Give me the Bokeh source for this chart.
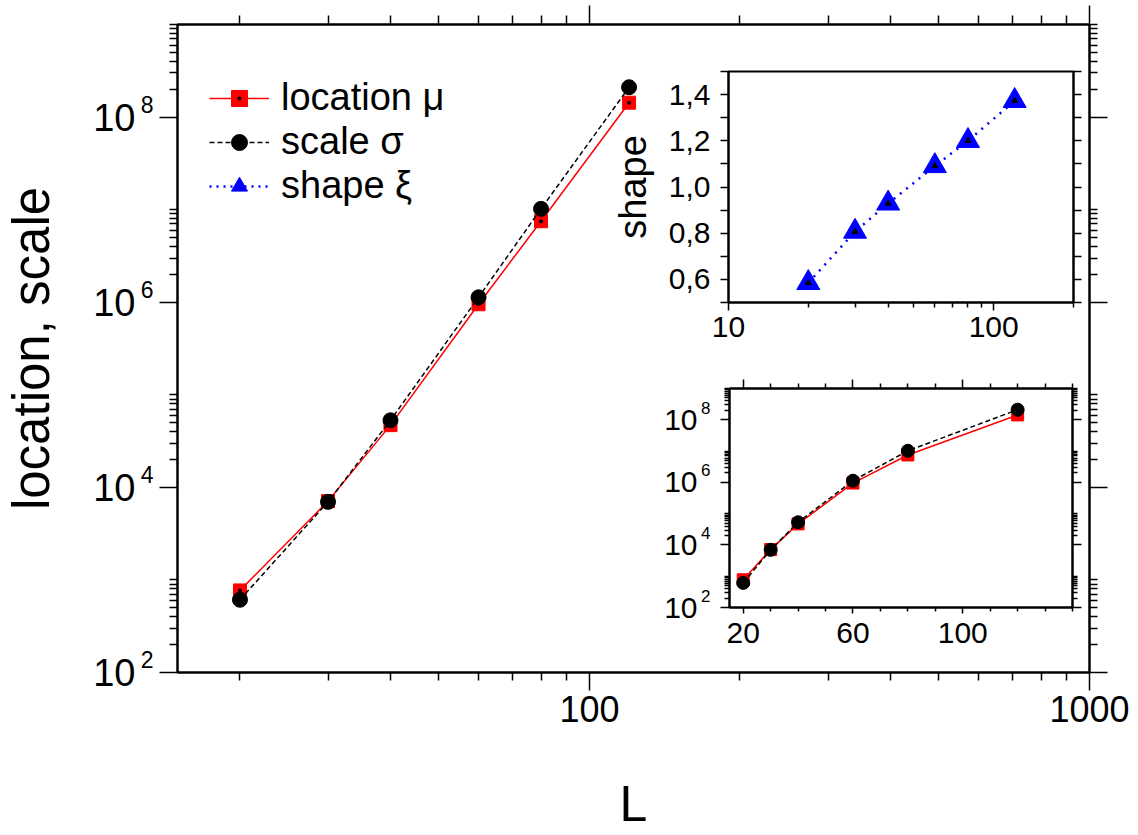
from math import log10
from bokeh.plotting import figure
from bokeh.models import (LogAxis, LinearAxis, FixedTicker, Legend, LegendItem,
                          ColumnDataSource, Range1d, LogScale)
from bokeh.embed import file_html
from bokeh.resources import INLINE

# ---------------- data ----------------
L = [20, 30, 40, 60, 80, 120]
location_mu = [770, 7100, 4.7e4, 9.5e5, 7.5e6, 1.43e8]
scale_sigma = [611, 6970, 5.3e4, 1.13e6, 1.02e7, 2.1e8]
shape_xi = [0.585, 0.807, 0.929, 1.091, 1.200, 1.373]

main_x_major = [100, 1000]
main_x_labels = ["100", "1000"]
main_x_minor = [20, 30, 40, 50, 60, 70, 80, 90, 200, 300, 400, 500, 600, 700, 800, 900]
log_y_major = [1e2, 1e4, 1e6, 1e8]
log_y_base = ["10", "10", "10", "10"]
log_y_exp = ["2", "4", "6", "8"]
log_y_minor = [k * 10.0 ** d for d in (2, 4, 6, 8) for k in range(2, 11)]

shape_x_major = [10, 100]
shape_x_labels = ["10", "100"]
shape_x_minor = [20, 30, 40, 50, 60, 70, 80, 90, 200]
shape_y_major = [0.6, 0.8, 1.0, 1.2, 1.4]
shape_y_labels = ["0,6", "0,8", "1,0", "1,2", "1,4"]
shape_y_minor = [0.5, 0.7, 0.9, 1.1, 1.3, 1.5]

lin_x_major = [20, 60, 100]
lin_x_labels = ["20", "60", "100"]
lin_x_minor = [30, 40, 50, 70, 80, 90, 110, 120, 130, 140]

FONT = "Liberation Sans"


def style_axis(ax, major_out, minor_out, font_size, lw=2, show_labels=True):
    ax.axis_line_width = lw
    ax.axis_line_color = "black"
    ax.major_tick_line_width = 1.5
    ax.minor_tick_line_width = 1.5
    ax.major_tick_line_color = "black"
    ax.minor_tick_line_color = "black"
    ax.major_tick_in = 0
    ax.major_tick_out = major_out
    ax.minor_tick_in = 0
    ax.minor_tick_out = minor_out
    ax.major_label_text_font = FONT
    ax.major_label_text_color = "black"
    ax.axis_label_text_font = FONT
    ax.axis_label_text_font_style = "normal"
    ax.axis_label_text_color = "black"
    if show_labels:
        ax.major_label_text_font_size = font_size
    else:
        ax.major_label_text_font_size = "1px"
        ax.major_label_text_alpha = 0
        ax.major_label_standoff = 0


def overrides(vals, labels):
    return {float(v): s for v, s in zip(vals, labels)}


def label_only_axis(ticks, labels, font_size, standoff, range_name=None):
    """An axis without line or ticks that only carries text labels."""
    kw = {} if range_name is None else {"y_range_name": range_name}
    ax = LogAxis(ticker=FixedTicker(ticks=ticks, minor_ticks=[]), **kw)
    ax.axis_line_color = None
    ax.major_tick_line_color = None
    ax.minor_tick_line_color = None
    ax.major_tick_out = 0
    ax.major_tick_in = 0
    ax.minor_tick_out = 0
    ax.minor_tick_in = 0
    ax.major_label_overrides = overrides(ticks, labels)
    ax.major_label_text_font = FONT
    ax.major_label_text_font_size = font_size
    ax.major_label_text_color = "black"
    ax.major_label_standoff = standoff
    ax.axis_label_text_font = FONT
    ax.axis_label_text_font_style = "normal"
    ax.axis_label_text_color = "black"
    return ax


def raised_log_range(start, end, px, frame_px):
    """Same log range moved so that its labels sit px pixels higher."""
    k = 10 ** (px * (log10(end) - log10(start)) / frame_px)
    return Range1d(start / k, end / k)


def power_of_ten_labels(fig, frame_px, base_size, exp_size, exp_raise, exp_standoff, base_standoff):
    y0, y1 = fig.y_range.start, fig.y_range.end
    fig.extra_y_ranges = {"exp": raised_log_range(y0, y1, exp_raise, frame_px)}
    fig.extra_y_scales = {"exp": LogScale()}
    ax_exp = label_only_axis(log_y_major, log_y_exp, exp_size, exp_standoff, "exp")
    fig.add_layout(ax_exp, "left")
    ax_base = label_only_axis(log_y_major, log_y_base, base_size, base_standoff)
    fig.add_layout(ax_base, "left")
    return ax_base


# ---------------- main figure ----------------
p = figure(width=1130, height=834, x_axis_type="log", y_axis_type="log",
           x_range=(15, 1000), y_range=(1e2, 1e9),
           output_backend="svg", toolbar_location=None,
           min_border_left=173, min_border_right=41, min_border_top=24, min_border_bottom=162)
p.xgrid.grid_line_color = None
p.ygrid.grid_line_color = None
p.outline_line_color = "black"
p.outline_line_width = 2
p.background_fill_color = "white"
p.border_fill_color = "white"

xa = p.xaxis[0]
xa.ticker = FixedTicker(ticks=main_x_major, minor_ticks=main_x_minor)
xa.major_label_overrides = overrides(main_x_major, main_x_labels)
style_axis(xa, 18, 8, "36px")
xa.major_label_standoff = 5
xa.axis_label = "L"
xa.axis_label_text_font_size = "50px"
xa.axis_label_standoff = 51

ya = p.yaxis[0]
ya.ticker = FixedTicker(ticks=log_y_major, minor_ticks=log_y_minor)
ya.major_label_overrides = overrides(log_y_major, [" "] * len(log_y_major))
style_axis(ya, 18, 8, None, show_labels=False)

ylab_axis = power_of_ten_labels(p, 648, "38px", "23px", 13, 6, 2)
ylab_axis.axis_label = "location, scale"
ylab_axis.axis_label_text_font_size = "51px"
ylab_axis.axis_label_standoff = 30

top_ax = LogAxis(ticker=FixedTicker(ticks=main_x_major, minor_ticks=main_x_minor))
style_axis(top_ax, 19, 9, None, show_labels=False)
p.add_layout(top_ax, "above")
right_ax = LogAxis(ticker=FixedTicker(ticks=log_y_major, minor_ticks=log_y_minor))
style_axis(right_ax, 18, 8, None, show_labels=False)
p.add_layout(right_ax, "right")

r_loc_line = p.line(L, location_mu, line_color="red", line_width=1.5)
r_loc_sq = p.scatter(L, location_mu, marker="square", size=13, fill_color="red", line_color="red")
r_loc_in = p.scatter(L, location_mu, marker="dot", size=16, fill_color="black", line_color="black")
r_sc_line = p.line(L, scale_sigma, line_color="black", line_width=1.5, line_dash="5 3")
r_sc_pt = p.scatter(L, scale_sigma, marker="circle", size=15, fill_color="black", line_color="black")

# legend proxy for the shape series (drawn in the inset); a NaN point draws nothing here
proxy = ColumnDataSource(dict(x=[float("nan")], y=[float("nan")]))
r_sh_line = p.line("x", "y", source=proxy, line_color="blue", line_width=2.5, line_dash="2 5")
r_sh_pt = p.scatter("x", "y", source=proxy, marker="triangle", size=20, fill_color="blue", line_color="blue")

legend = Legend(items=[
    LegendItem(label="location \u03bc", renderers=[r_loc_line, r_loc_sq, r_loc_in]),
    LegendItem(label="scale \u03c3", renderers=[r_sc_line, r_sc_pt]),
    LegendItem(label="shape \u03be", renderers=[r_sh_line, r_sh_pt]),
], location=(32, 465))
legend.border_line_alpha = 0
legend.background_fill_alpha = 0
legend.glyph_width = 60
legend.glyph_height = 40
legend.label_text_font = FONT
legend.label_text_font_size = "38px"
legend.label_text_color = "black"
legend.label_standoff = 12
legend.spacing = 1
legend.padding = 0
legend.margin = 0
p.add_layout(legend)

# ---------------- inset 1: shape ----------------
ins1 = figure(width=480, height=286, x_axis_type="log",
              x_range=(10, 200), y_range=(0.5, 1.5),
              output_backend="svg", toolbar_location=None,
              min_border_left=120, min_border_right=15, min_border_top=5, min_border_bottom=50)
ins1.styles = {"position": "absolute", "left": "608px", "top": "66px"}
ins1.xgrid.grid_line_color = None
ins1.ygrid.grid_line_color = None
ins1.outline_line_color = "black"
ins1.outline_line_width = 2
ins1.background_fill_color = "white"
ins1.border_fill_alpha = 0

a = ins1.xaxis[0]
a.ticker = FixedTicker(ticks=shape_x_major, minor_ticks=shape_x_minor)
a.major_label_overrides = overrides(shape_x_major, shape_x_labels)
style_axis(a, 8, 5, "30px")
a.major_label_standoff = 6
a = ins1.yaxis[0]
a.ticker = FixedTicker(ticks=shape_y_major, minor_ticks=shape_y_minor)
a.major_label_overrides = overrides(shape_y_major, shape_y_labels)
style_axis(a, 8, 8, "30px")
a.major_label_standoff = 10
a.axis_label = "shape"
a.axis_label_text_font_size = "38px"
a.axis_label_standoff = 12
ra = LinearAxis(ticker=FixedTicker(ticks=shape_y_major, minor_ticks=shape_y_minor))
style_axis(ra, 8, 8, None, show_labels=False)
ins1.add_layout(ra, "right")

ins1.line(L, shape_xi, line_color="blue", line_width=2.5, line_dash="2 6")
ins1.scatter(L, shape_xi, marker="triangle", size=23, fill_color="blue", line_color="blue")
ins1.scatter(L, shape_xi, marker="triangle", size=6, fill_color="black", line_color="black")

# ---------------- inset 2: location/scale vs L (lin-log) ----------------
ins2 = figure(width=443, height=283, y_axis_type="log",
              x_range=(15, 140), y_range=(1e2, 1e9),
              output_backend="svg", toolbar_location=None,
              min_border_left=80, min_border_right=20, min_border_top=14, min_border_bottom=50)
ins2.styles = {"position": "absolute", "left": "649px", "top": "374px"}
ins2.xgrid.grid_line_color = None
ins2.ygrid.grid_line_color = None
ins2.outline_line_color = "black"
ins2.outline_line_width = 2
ins2.background_fill_color = "white"
ins2.border_fill_alpha = 0

a = ins2.xaxis[0]
a.ticker = FixedTicker(ticks=lin_x_major, minor_ticks=lin_x_minor)
a.major_label_overrides = overrides(lin_x_major, lin_x_labels)
style_axis(a, 6, 4, "30px")
a.major_label_standoff = 9
a = ins2.yaxis[0]
a.ticker = FixedTicker(ticks=log_y_major, minor_ticks=log_y_minor)
a.major_label_overrides = overrides(log_y_major, [" "] * len(log_y_major))
style_axis(a, 9, 5, None, show_labels=False)
power_of_ten_labels(ins2, 219, "30px", "17px", 12, 10, 1)

ta = LinearAxis(ticker=FixedTicker(ticks=lin_x_major, minor_ticks=lin_x_minor))
style_axis(ta, 9, 5, None, show_labels=False)
ins2.add_layout(ta, "above")
ra2 = LogAxis(ticker=FixedTicker(ticks=log_y_major, minor_ticks=log_y_minor))
style_axis(ra2, 9, 5, None, show_labels=False)
ins2.add_layout(ra2, "right")

ins2.line(L, location_mu, line_color="red", line_width=1.5)
ins2.scatter(L, location_mu, marker="square", size=12, fill_color="red", line_color="red")
ins2.scatter(L, location_mu, marker="dot", size=14, fill_color="black", line_color="black")
ins2.line(L, scale_sigma, line_color="black", line_width=1.5, line_dash="5 3")
ins2.scatter(L, scale_sigma, marker="circle", size=13, fill_color="black", line_color="black")

open("out.html", "w").write(file_html([p, ins1, ins2], INLINE))
